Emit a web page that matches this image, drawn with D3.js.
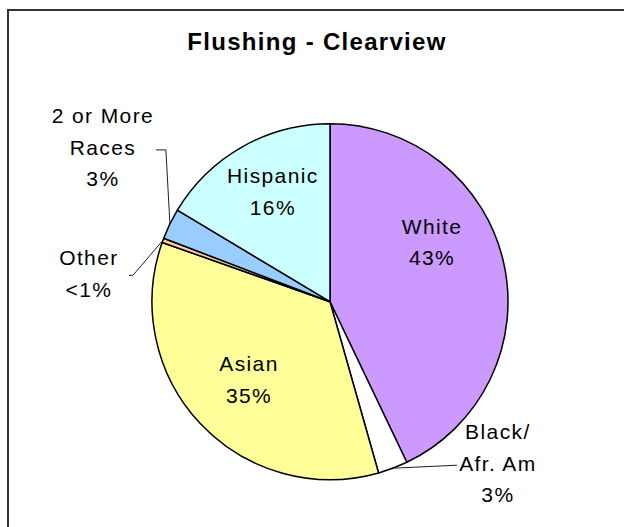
<!DOCTYPE html>
<html>
<head>
<meta charset="utf-8">
<script src="https://cdn.jsdelivr.net/npm/d3@7"></script>
<style>
  body { margin: 0; background: #fff; }
  svg text { font-family: "Liberation Sans", Arial, sans-serif; fill: #000; }
</style>
</head>
<body>
<div id="chart"></div>
<script>
// data, clockwise from 12 o'clock
var categories = ["White", "Black/\nAfr. Am", "Asian", "Other", "2 or More\nRaces", "Hispanic"];
var shares = [42.9, 2.7, 34.8, 0.4, 2.8, 16.4];
var pctLabels = ["43%", "3%", "35%", "<1%", "3%", "16%"];
var colors = ["#CC99FF", "#FFFFFF", "#FFFF99", "#FFCC99", "#99CCFF", "#CCFFFF"];

// label placement (inside = centroid + nudge, outside = leader line)
// ex/ey = leader elbow relative to label centre, fx = extra horizontal tail
var labelLayout = [
  {inside: true,  dx: -13, dy: -34},
  {inside: false, dx: 105, dy: -5,  ex: -41, ey: 2},
  {inside: true,  dx: 5,   dy: -3},
  {inside: false, dx: -74, dy: 33,  ex: 44,  ey: 2,  fx: -4},
  {inside: false, dx: -67, dy: -77, ex: 63,  ey: 3,  fx: -10},
  {inside: true,  dx: 1,   dy: -8}
];

function wrapper(){

var w = 624, h = 527;
var cx = 330, cy = 301.7, R = 178;
var labelR = 118;
var lineH = 31.5, capH = 15.5;

var svg = d3.select("#chart")
            .append("svg")
            .attr("width", w)
            .attr("height", h);

// chart frame, runs off the right and bottom edges
svg.append("rect")
   .attr("x", 8)
   .attr("y", 10)
   .attr("width", 640)
   .attr("height", 540)
   .attr("fill", "#fff")
   .attr("stroke", "#333")
   .attr("stroke-width", 2);

svg.append("text")
   .attr("x", 317)
   .attr("y", 50)
   .attr("text-anchor", "middle")
   .attr("font-size", "24px")
   .attr("font-weight", "bold")
   .attr("letter-spacing", "1.3px")
   .text("Flushing - Clearview");

var pie = d3.pie().sort(null).value(d => d);
var arcs = pie(shares);

var arc = d3.arc().innerRadius(0).outerRadius(R);
var labelArc = d3.arc().innerRadius(labelR).outerRadius(labelR);
var edgeArc = d3.arc().innerRadius(R).outerRadius(R);

var g = svg.append("g")
           .attr("transform", `translate(${cx},${cy})`);

g.selectAll("path.slice")
 .data(arcs)
 .enter()
 .append("path")
   .attr("class", "slice")
   .attr("d", arc)
   .attr("fill", (d, i) => colors[i])
   .attr("stroke", "#000")
   .attr("stroke-width", 1.5)
   .attr("stroke-linejoin", "round");

//labels
arcs.forEach(function(d, i){
  var lay = labelLayout[i];
  var pos;
  if(lay.inside){
    var c = labelArc.centroid(d);
    pos = [c[0] + lay.dx, c[1] + lay.dy];
  } else {
    var e = edgeArc.centroid(d);
    pos = [e[0] + lay.dx, e[1] + lay.dy];
    // leader line from slice edge to label
    var pts = [e, [pos[0] + lay.ex, pos[1] + lay.ey]];
    if(lay.fx !== undefined) pts.push([pos[0] + lay.ex + lay.fx, pos[1] + lay.ey]);
    g.append("path")
     .attr("d", d3.line()(pts))
     .attr("fill", "none")
     .attr("stroke", "#222")
     .attr("stroke-width", 1);
  }

  var lines = categories[i].split("\n").concat([pctLabels[i]]);
  var n = lines.length;
  var t = g.append("text")
           .attr("text-anchor", "middle")
           .attr("font-size", "21px")
           .attr("letter-spacing", "1.4px");
  lines.forEach(function(s, k){
    t.append("tspan")
     .attr("x", pos[0])
     .attr("y", pos[1] + (k - (n - 1) / 2) * lineH + capH / 2)
     .text(s);
  });
});

}
window.onload = wrapper;
</script>
</body>
</html>
